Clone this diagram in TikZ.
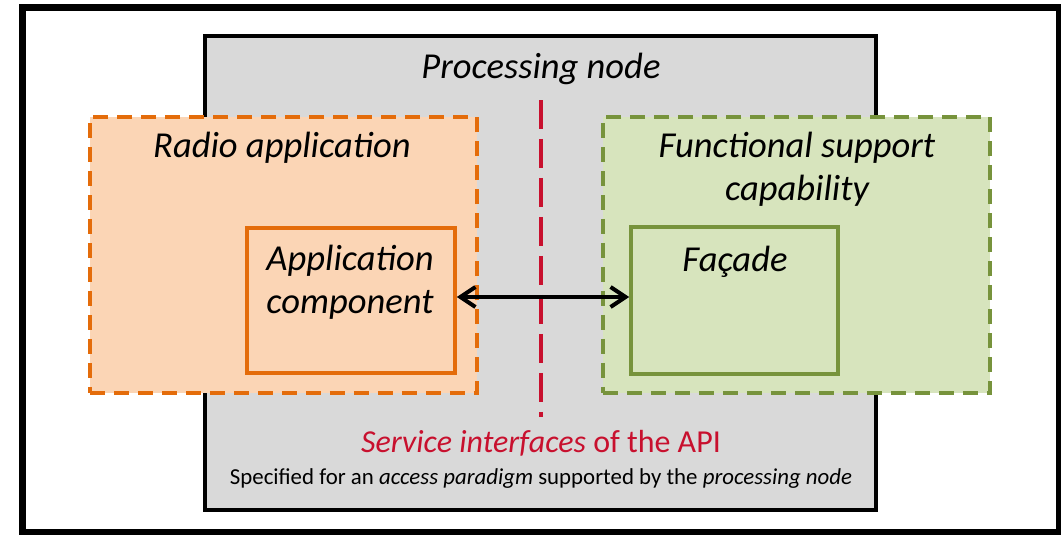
\documentclass[tikz,border=0pt]{standalone}
\usepackage{fontspec}
\setmainfont{Carlito}
\usetikzlibrary{arrows.meta}
\definecolor{grayfill}{HTML}{D9D9D9}
\definecolor{orfill}{HTML}{FBD5B5}
\definecolor{ordraw}{HTML}{E46C0A}
\definecolor{grfill}{HTML}{D7E4BD}
\definecolor{grdraw}{HTML}{77933C}
\definecolor{apired}{HTML}{C8102E}
\tikzset{
  box/.style={rectangle, inner sep=0pt},
  dashbox/.style={box, line width=0.085cm, dash pattern=on 0.3cm off 0.18cm},
  solidbox/.style={box, line width=0.075cm},
  bigtext/.style={anchor=base, inner sep=0pt, font=\fontsize{20.8}{25}\selectfont\itshape},
  barbtip/.tip={Straight Barb[length=0.3cm,width=0.4cm,line width=0.08cm]},
}
\begin{document}
\begin{tikzpicture}[x=0.02cm,y=-0.02cm]
\useasboundingbox (0,0) rectangle (1061,534);
\node[box, draw=black, line width=0.14cm, fill=white, minimum width=20.76cm, minimum height=10.52cm] (frame) at (541,270) {};
\node[box, draw=black, line width=0.09cm, fill=grayfill, minimum width=13.42cm, minimum height=9.48cm] (node) at (540.5,273) {};
\node[bigtext] (nodelabel) at (541,78) {Processing node};
\coordinate (redtop) at (541,100);
\coordinate (redbot) at (541,417);
\draw[apired, line width=0.08cm, dash pattern=on 0.58cm off 0.2cm] (redtop) -- (redbot);
\node[dashbox, draw=ordraw, fill=orfill, minimum width=7.74cm, minimum height=5.52cm] (radio) at (283.5,255) {};
\node[dashbox, draw=grdraw, fill=grfill, minimum width=7.74cm, minimum height=5.52cm] (fsc) at (796.5,255) {};
\node[solidbox, draw=ordraw, fill=orfill, minimum width=4.16cm, minimum height=2.9cm] (appcomp) at (351,300.5) {};
\node[solidbox, draw=grdraw, fill=grfill, minimum width=4.14cm, minimum height=2.94cm] (facade) at (734.5,300.5) {};
\node[bigtext] (radiolabel) at (282,157) {Radio application};
\node[bigtext] (fsclabel1) at (797,157) {Functional support};
\node[bigtext] (fsclabel2) at (797,200) {capability};
\node[bigtext] (applabel1) at (350,270) {Application};
\node[bigtext] (applabel2) at (350,313) {component};
\node[bigtext] (facadelabel) at (735,271) {Façade};
\draw[barbtip-barbtip, line width=0.07cm, black]
  ([yshift=0.07cm]appcomp.east) -- ([yshift=0.07cm]facade.west);
\node[anchor=base, inner sep=0pt, text=apired, font=\fontsize{18.2}{22}\selectfont] (api) at (541,452) {\textit{Service interfaces} of the API};
\node[anchor=base, inner sep=0pt, font=\fontsize{13}{15}\selectfont] (spec) at (541,484) {Specified for an \textit{access paradigm} supported by the \textit{processing node}};
\end{tikzpicture}
\end{document}
